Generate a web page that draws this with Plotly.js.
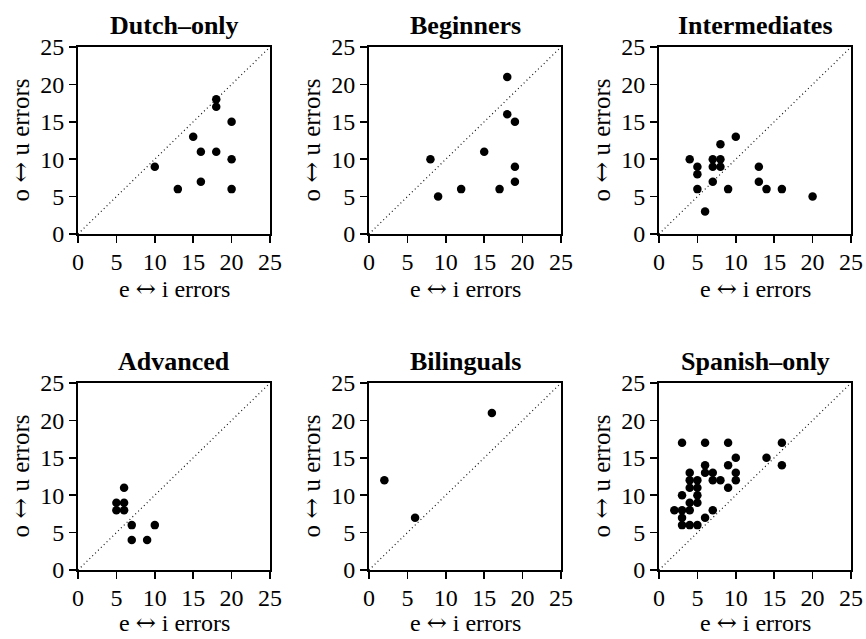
<!DOCTYPE html>
<html>
<head>
<meta charset="utf-8">
<script src="https://cdn.plot.ly/plotly-3.0.1.min.js"></script>
<style>html,body{margin:0;padding:0;background:#fff;}#chart{width:866px;height:639px;}</style>
</head>
<body>
<div id="chart"></div>
<script>
// ---- data ----
const panelTitles = ["Dutch–only", "Beginners", "Intermediates", "Advanced", "Bilinguals", "Spanish–only"];

const dutchOnlyEI = [18, 18, 20, 15, 16, 18, 20, 10, 16, 13, 20];
const dutchOnlyOU = [18, 17, 15, 13, 11, 11, 10, 9, 7, 6, 6];

const beginnersEI = [18, 18, 19, 15, 8, 19, 19, 9, 12, 17];
const beginnersOU = [21, 16, 15, 11, 10, 9, 7, 5, 6, 6];

const intermediatesEI = [10, 8, 4, 7, 8, 5, 7, 8, 13, 5, 7, 13, 5, 9, 14, 16, 20, 6];
const intermediatesOU = [13, 12, 10, 10, 10, 9, 9, 9, 9, 8, 7, 7, 6, 6, 6, 6, 5, 3];

const advancedEI = [6, 5, 6, 5, 6, 7, 10, 7, 9];
const advancedOU = [11, 9, 9, 8, 8, 6, 6, 4, 4];

const bilingualsEI = [16, 2, 6];
const bilingualsOU = [21, 12, 7];

const spanishOnlyEI = [3, 6, 9, 16, 10, 14, 6, 9, 16, 4, 6, 7, 10, 4, 5, 7, 8, 10, 4, 5, 9, 3, 5, 4, 5, 2, 3, 4, 7, 3, 6, 3, 4, 5];
const spanishOnlyOU = [17, 17, 17, 17, 15, 15, 14, 14, 14, 13, 13, 13, 13, 12, 12, 12, 12, 12, 11, 11, 11, 10, 10, 9, 9, 8, 8, 8, 8, 7, 7, 6, 6, 6];

const axisTicks = [0, 5, 10, 15, 20, 25];
const axisRange = [0, 25];
const diagonal = [0, 25];
const ARROW = '<span style="font-family:\'DejaVu Serif\'">↔</span>';
const xLabel = "e " + ARROW + " i errors";
const yLabel = "o " + ARROW + " u errors";

// ---- layout ----
const W = 866, H = 639;
const colLeft = [78, 369, 659];
const plotW = 192;
const rowTop = [47, 383];
const plotH = 187;
const xLabelOffset = [55, 53];

const seriesX = [dutchOnlyEI, beginnersEI, intermediatesEI, advancedEI, bilingualsEI, spanishOnlyEI];
const seriesY = [dutchOnlyOU, beginnersOU, intermediatesOU, advancedOU, bilingualsOU, spanishOnlyOU];

const FONT = "'Liberation Serif', 'Times New Roman', serif";
const FS_TICK = 24, FS_TITLE = 26, FS_LABEL = 24;
const data = [];
const layout = {
  width: W, height: H,
  margin: {l: 0, r: 0, t: 0, b: 0},
  paper_bgcolor: "#fff", plot_bgcolor: "#fff",
  showlegend: false,
  font: {family: FONT, size: FS_TICK, color: "#000"},
  annotations: [], shapes: []
};

for (let i = 0; i < 6; i++) {
  const r = Math.floor(i / 3), c = i % 3;
  const n = i === 0 ? "" : String(i + 1);
  const x0 = colLeft[c], y0 = rowTop[r];
  const ax = {
    domain: [x0 / W, (x0 + plotW) / W],
    range: axisRange, tickvals: axisTicks, ticktext: axisTicks.map(String),
    showgrid: false, zeroline: false, showline: true, mirror: true,
    linecolor: "#000", linewidth: 2,
    ticks: "outside", ticklen: 7, tickwidth: 1.5, tickcolor: "#000",
    tickfont: {family: FONT, size: FS_TICK, color: "#000"},
    anchor: "y" + n, fixedrange: true, ticklabelstandoff: -2
  };
  const ay = Object.assign({}, ax, {
    domain: [1 - (y0 + plotH) / H, 1 - y0 / H],
    anchor: "x" + n, ticklabelstandoff: 0
  });
  layout["xaxis" + n] = ax;
  layout["yaxis" + n] = ay;

  data.push({
    type: "scatter", mode: "lines",
    x: diagonal, y: diagonal, xaxis: "x" + n, yaxis: "y" + n,
    line: {color: "#111", width: 1.2, dash: "1px,3px"}, hoverinfo: "skip"
  });
  data.push({
    type: "scatter", mode: "markers",
    x: seriesX[i], y: seriesY[i], xaxis: "x" + n, yaxis: "y" + n,
    marker: {color: "#000", size: 8.5, line: {width: 0}}, cliponaxis: false
  });

  const cx = (x0 + plotW / 2) / W;
  layout.annotations.push({
    text: "<b>" + panelTitles[i] + "</b>", xref: "paper", yref: "paper",
    x: cx, y: 1 - (y0 - 22) / H, xanchor: "center", yanchor: "middle",
    showarrow: false, font: {family: FONT, size: FS_TITLE, color: "#000"}
  });
  layout.annotations.push({
    text: xLabel, xref: "paper", yref: "paper",
    x: cx, y: 1 - (y0 + plotH + xLabelOffset[r]) / H, xanchor: "center", yanchor: "middle",
    showarrow: false, font: {family: FONT, size: FS_LABEL, color: "#000"}
  });
  layout.annotations.push({
    text: yLabel, xref: "paper", yref: "paper", textangle: -90,
    x: (x0 - 58) / W, y: 1 - (y0 + plotH / 2) / H, xanchor: "center", yanchor: "middle",
    showarrow: false, font: {family: FONT, size: 25, color: "#000"}
  });
}

Plotly.newPlot("chart", data, layout, {staticPlot: true});
</script>
</body>
</html>
